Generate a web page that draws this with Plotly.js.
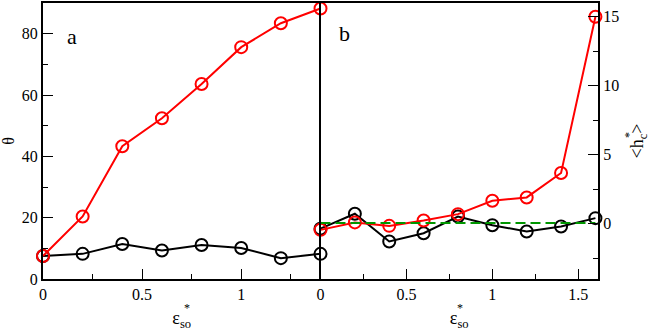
<!DOCTYPE html>
<html>
<head>
<meta charset="utf-8">
<script src="https://cdn.plot.ly/plotly-3.0.1.min.js"></script>
<style>
  body { margin: 0; background: #fff; }
  #chart { width: 654px; height: 331px; }
</style>
</head>
<body>
<div id="chart"></div>
<script>
// panel a: theta vs eps_so*
var xA = [0, 0.2, 0.4, 0.6, 0.8, 1.0, 1.2, 1.4];
var thetaRed = [7.5, 20.4, 43.3, 52.4, 63.6, 75.6, 83.4, 88.2];
var thetaBlack = [7.5, 8.2, 11.4, 9.3, 11.1, 10.1, 6.8, 8.2];

// panel b: <h_c*> vs eps_so*
var xB = [0, 0.2, 0.4, 0.6, 0.8, 1.0, 1.2, 1.4, 1.6];
var hcRed = [-0.44, 0.1, -0.15, 0.24, 0.7, 1.67, 1.91, 3.68, 15.0];
var hcBlack = [-0.35, 0.73, -1.28, -0.68, 0.53, -0.1, -0.56, -0.2, 0.41];
var zeroX = [0, 1.6];
var zeroY = [0.05, 0.05];

var serif = "Liberation Serif";

function circleTrace(x, y, color, xa, ya){
  return {
    x: x, y: y,
    xaxis: xa, yaxis: ya,
    mode: 'lines+markers',
    cliponaxis: false,
    line: {color: color, width: 2},
    marker: {
      symbol: 'circle-open',
      size: 12,
      color: color,
      line: {color: color, width: 2}
    },
    showlegend: false
  };
}

var green = {
  x: zeroX, y: zeroY,
  xaxis: 'x2', yaxis: 'y2',
  mode: 'lines',
  line: {color: 'rgb(0,150,0)', width: 2, dash: '10px,5px'},
  showlegend: false
};

var data = [
  circleTrace(xA, thetaBlack, 'black', 'x', 'y'),
  circleTrace(xA, thetaRed, 'rgb(255,0,0)', 'x', 'y'),
  circleTrace(xB, hcBlack, 'black', 'x2', 'y2'),
  circleTrace(xB, hcRed, 'rgb(255,0,0)', 'x2', 'y2'),
  green
];

function axisBase(){
  return {
    showline: true,
    linewidth: 2,
    linecolor: 'black',
    mirror: true,
    showgrid: false,
    zeroline: false,
    ticks: 'inside',
    ticklen: 10,
    tickwidth: 1,
    tickcolor: 'black',
    tickfont: {family: serif, size: 16, color: 'black'}
  };
}

var xa = axisBase();
xa.domain = [0, 0.5];
xa.range = [0, 1.4];
xa.tickvals = [0, 0.5, 1];
xa.minor = {tickvals: [0.25, 0.75, 1.25], ticks: 'inside', ticklen: 5, tickcolor: 'black'};
xa.anchor = 'y';
xa.title = {text: 'ε<sub>so</sub>', font: {family: serif, size: 18, color: 'black'}, standoff: 12};

var ya = axisBase();
ya.mirror = false;
ya.range = [0, 90];
ya.dtick = 20;
ya.minor = {dtick: 10, ticks: 'inside', ticklen: 5, tickcolor: 'black'};
ya.anchor = 'x';
ya.title = {text: 'θ', font: {family: serif, size: 16, color: 'black'}, standoff: 10};

var xb = axisBase();
xb.domain = [0.5, 1];
xb.range = [0, 1.615];
xb.dtick = 0.5;
xb.tick0 = 0;
xb.minor = {dtick: 0.25, ticks: 'inside', ticklen: 5, tickcolor: 'black'};
xb.anchor = 'y2';
xb.title = {text: 'ε<sub>so</sub>', font: {family: serif, size: 18, color: 'black'}, standoff: 12};

var yb = axisBase();
yb.range = [-4, 16];
yb.dtick = 5;
yb.tick0 = 0;
yb.minor = {dtick: 2.5, ticks: 'inside', ticklen: 5, tickcolor: 'black'};
yb.anchor = 'x2';
yb.side = 'right';
yb.title = {text: '&lt;h<sub>c</sub>&gt;', font: {family: serif, size: 18, color: 'black'}, standoff: 12};

function note(text, x, y, size, angle){
  return {text: text, x: x, y: y, xref: 'paper', yref: 'paper',
          xanchor: 'center', yanchor: 'middle', showarrow: false,
          textangle: angle || 0,
          font: {family: serif, size: size, color: 'black'}};
}

var layout = {
  width: 654,
  height: 331,
  margin: {l: 43, r: 56, t: 3, b: 52},
  font: {family: serif, size: 16, color: 'black'},
  paper_bgcolor: 'white',
  plot_bgcolor: 'white',
  xaxis: xa,
  yaxis: ya,
  xaxis2: xb,
  yaxis2: yb,
  annotations: [
    note('a', 0.052, 0.877, 22),
    note('b', 0.544, 0.891, 22),
    note('*', 0.259, -0.105, 12),
    note('*', 0.751, -0.105, 12),
    note('*', 1.056, 0.522, 12, -90)
  ]
};

Plotly.newPlot('chart', data, layout, {displayModeBar: false, staticPlot: true});
</script>
</body>
</html>
